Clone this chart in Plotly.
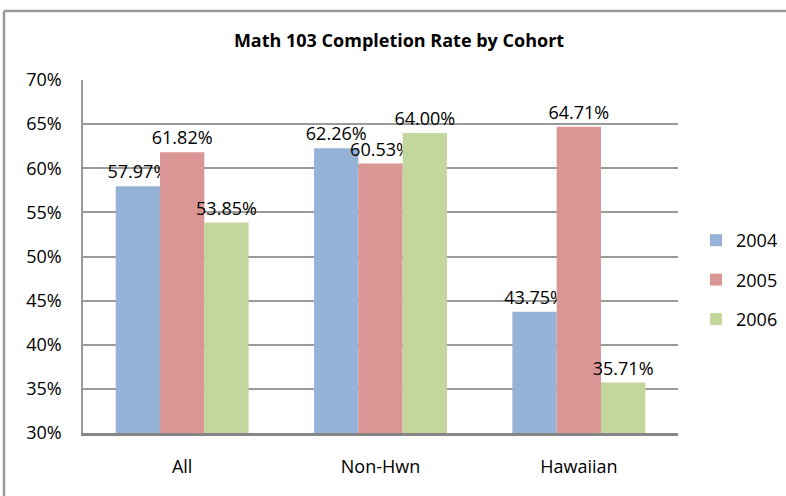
import plotly.graph_objects as go

categories = ["All", "Non-Hwn", "Hawaiian"]
years = ["2004", "2005", "2006"]
rates_2004 = [57.97, 62.26, 43.75]
rates_2005 = [61.82, 60.53, 64.71]
rates_2006 = [53.85, 64.00, 35.71]
colors = ["#95B3D7", "#D99694", "#C3D69B"]

fig = go.Figure()
for year, vals, col in zip(years, [rates_2004, rates_2005, rates_2006], colors):
    fig.add_trace(go.Bar(
        x=categories, y=vals, name=year, legendgroup=year,
        marker=dict(color=col, line=dict(width=0)),
        text=[f"{v:.2f}%" for v in vals], textposition="outside",
        textfont=dict(size=18, color="#000"), cliponaxis=False,
        constraintext="none",
    ))

# plot area is 83..678 (x) by 80..433 (y) in pixels
W, H = 786, 496
L, R, T, B = 83, 678, 80, 433
pw, ph = R - L, B - T

fig.update_layout(
    width=W, height=H,
    margin=dict(l=L, r=W - R, t=T, b=H - B, autoexpand=False),
    paper_bgcolor="white", plot_bgcolor="white",
    font=dict(family="Open Sans, Liberation Sans, sans-serif", size=18, color="#000"),
    title=dict(text="<b>Math 103 Completion Rate by Cohort</b>", x=399 / W, xanchor="center",
               y=1 - 41 / H, yanchor="middle", font=dict(size=18)),
    barmode="group", bargap=0.33, bargroupgap=0,
    legend=dict(x=(696 - L) / pw, y=(B - 280) / ph, xanchor="left", yanchor="middle",
                traceorder="grouped", tracegroupgap=13, font=dict(size=18),
                itemwidth=30),
    xaxis=dict(showline=True, linecolor="#868686", linewidth=3, ticks="",
               tickfont=dict(size=18), ticklabelstandoff=15, automargin=False),
    yaxis=dict(range=[30, 70], dtick=5, ticksuffix="%", showgrid=True, gridcolor="#9a9a9a",
               gridwidth=1.5, showline=True, linecolor="#9a9a9a", linewidth=1.5, ticks="",
               tickfont=dict(size=18), ticklabelstandoff=16, zeroline=False,
               automargin=False),
    shapes=[
        # outer chart frame: only the top and left edges are in frame
        dict(type="line", xref="paper", yref="paper",
             x0=(4 - L) / pw, x1=(W + 10 - L) / pw,
             y0=(B - 11) / ph, y1=(B - 11) / ph,
             line=dict(color="#9a9a9a", width=2.5)),
        dict(type="line", xref="paper", yref="paper",
             x0=(4 - L) / pw, x1=(4 - L) / pw,
             y0=(B - 11) / ph, y1=(B - H - 10) / ph,
             line=dict(color="#9a9a9a", width=2.5)),
    ],
)

fig.write_html("out.html", config={"displayModeBar": False},
               post_script="document.body.style.margin='0';")
